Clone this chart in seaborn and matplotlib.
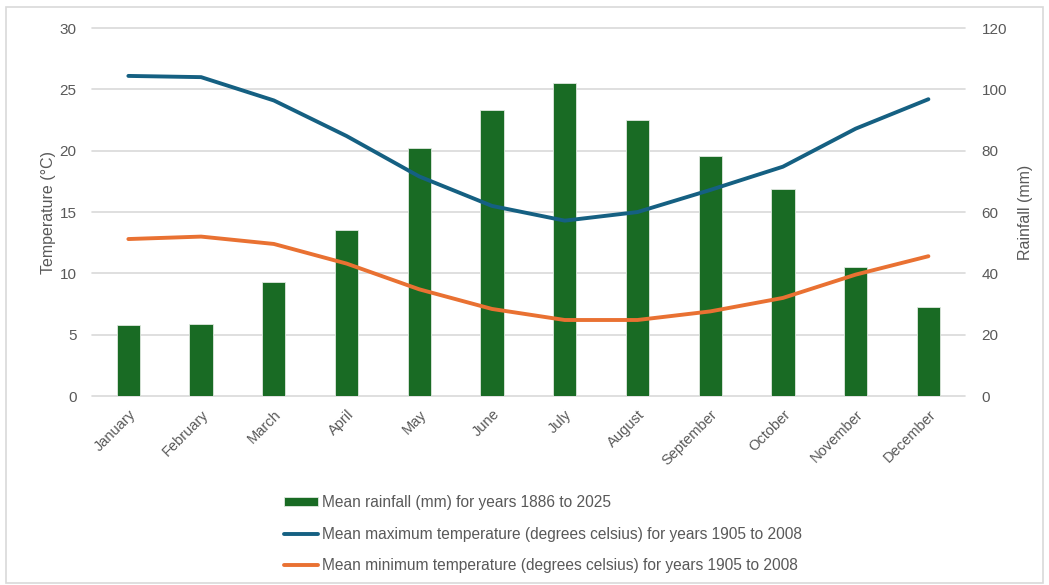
import numpy as np
import pandas as pd
import seaborn as sns
import matplotlib.pyplot as plt
from matplotlib.patches import Rectangle

months = ["January", "February", "March", "April", "May", "June", "July",
          "August", "September", "October", "November", "December"]
rainfall = [23.2, 23.5, 37.2, 54.0, 81.0, 93.2, 102.0, 90.0, 78.2, 67.4, 42.2, 29.1]
max_temp = [26.1, 26.0, 24.1, 21.2, 17.9, 15.5, 14.3, 15.0, 16.8, 18.7, 21.8, 24.2]
min_temp = [12.8, 13.0, 12.4, 10.8, 8.7, 7.1, 6.2, 6.2, 6.9, 8.0, 9.9, 11.4]

rain_label = "Mean rainfall (mm) for years 1886 to 2025"
max_label = "Mean maximum temperature (degrees celsius) for years 1905 to 2008"
min_label = "Mean minimum temperature (degrees celsius) for years 1905 to 2008"

GREEN = "#196B24"
BLUE = "#156082"
ORANGE = "#E97132"
TXT = "#595959"

sns.set_style("white")
plt.rcParams["font.family"] = ["Liberation Sans", "DejaVu Sans"]

df = pd.DataFrame({"month": months, "rain": rainfall, "tmax": max_temp, "tmin": min_temp})
df["pos"] = np.arange(len(months))

fig = plt.figure(figsize=(10.49, 5.85), dpi=100)
ax = fig.add_axes([0.0877, 0.323, 0.832, 0.629])
ax2 = ax.twinx()
ax.set_zorder(ax2.get_zorder() + 1)
ax.patch.set_visible(False)

# bars on the rainfall axis (right)
sns.barplot(data=df, x="pos", y="rain", color=GREEN, width=0.32, saturation=1,
            ax=ax2, label=rain_label, zorder=2)
for p in ax2.patches:
    p.set_edgecolor("#dfe8df")
    p.set_linewidth(0.6)

# lines on temperature axis (left)
sns.lineplot(data=df, x="pos", y="tmax", color=BLUE, lw=2.8, ax=ax,
             label=max_label, solid_capstyle="round", solid_joinstyle="round")
sns.lineplot(data=df, x="pos", y="tmin", color=ORANGE, lw=2.8, ax=ax,
             label=min_label, solid_capstyle="round", solid_joinstyle="round")

ax.set_ylim(0, 30)
ax.set_yticks(range(0, 31, 5))
ax2.set_ylim(0, 120)
ax2.set_yticks(range(0, 121, 20))
ax.set_xlim(-0.5, 11.5)
ax.set_xticks(df["pos"])
ax.set_xticklabels(months, rotation=45, ha="right", rotation_mode="anchor")

for y in range(0, 121, 20):
    ax2.axhline(y, color="#d9d9d9", lw=1.2, zorder=0, clip_on=False)

for a in (ax, ax2):
    for s in a.spines.values():
        s.set_visible(False)
    a.tick_params(length=0, labelsize=11, colors=TXT)
ax.tick_params(axis="y", pad=11)
ax2.tick_params(axis="y", pad=12)
ax.tick_params(axis="x", pad=8, labelsize=10.5)

ax.set_xlabel("")
ax2.set_xlabel("")
ax.set_ylabel("Temperature (°C)", fontsize=11.5, color=TXT, labelpad=3)
ax2.set_ylabel("Rainfall (mm)", fontsize=11.5, color=TXT, rotation=90, labelpad=8)

h1, l1 = ax2.get_legend_handles_labels()
h2, l2 = ax.get_legend_handles_labels()
ax.get_legend().remove()
if ax2.get_legend():
    ax2.get_legend().remove()
leg = fig.legend(h1 + h2, l1 + l2, loc="upper left", bbox_to_anchor=(0.257, 0.178),
                 frameon=False, fontsize=11.2, labelcolor=TXT, handlelength=2.2,
                 handleheight=0.5, handletextpad=0.25, labelspacing=1.08)

fig.patches.append(Rectangle((0.006, 0.003), 0.988, 0.985, transform=fig.transFigure,
                             fill=False, edgecolor="#d9d9d9", lw=1.2))

fig.savefig("out.png", dpi=100)
